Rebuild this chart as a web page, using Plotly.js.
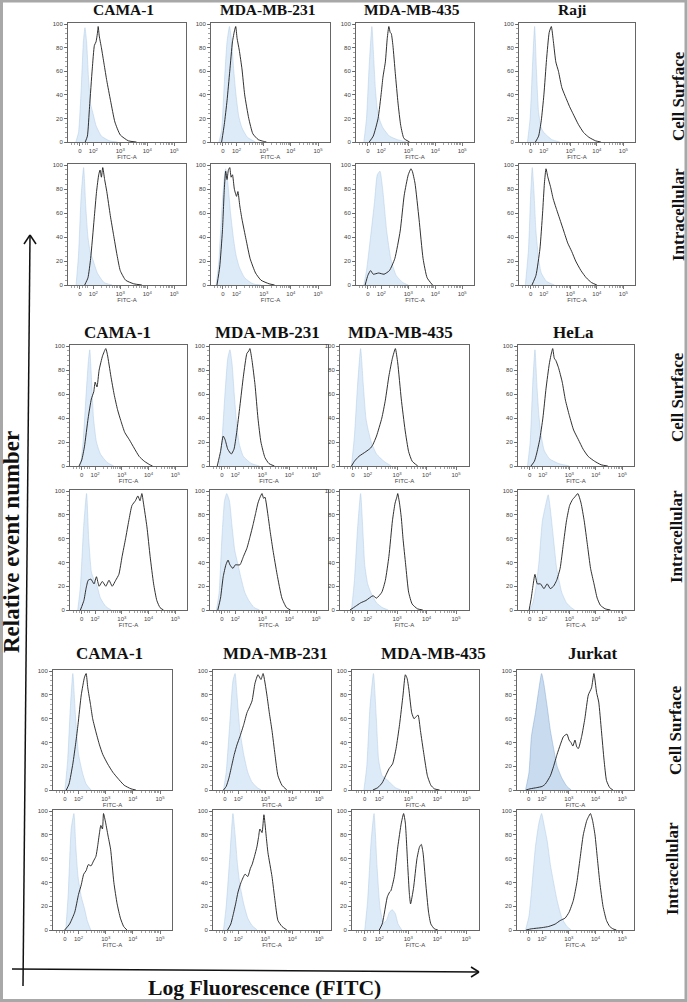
<!DOCTYPE html>
<html><head><meta charset="utf-8">
<script src="https://cdn.plot.ly/plotly-3.0.1.min.js"></script>
<style>html,body{margin:0;padding:0;background:#fff}#chart{width:688px;height:1002px}</style>
</head><body><div id="chart"></div>
<script>
// ---------- labels ----------
const groupCells = [
  ['CAMA-1','MDA-MB-231','MDA-MB-435','Raji'],
  ['CAMA-1','MDA-MB-231','MDA-MB-435','HeLa'],
  ['CAMA-1','MDA-MB-231','MDA-MB-435','Jurkat']
];
const rowLabels = ['Cell Surface','Intracellular'];
const xTickVals = [1.5, 2, 3, 4, 5];
const xTickText = ['0','10<sup>2</sup>','10<sup>3</sup>','10<sup>4</sup>','10<sup>5</sup>'];
const yTickVals = [0,20,40,60,80,100];
const fitcLabel = 'FITC-A';
const xAxisLabel = 'Log Fluorescence (FITC)';
const yAxisLabel = 'Relative event number';

// ---------- histogram data: [position (display decades), % of max] ----------
// Group 1, cell surface
const g1SurfCamaCtrl = [[1.35,0],[1.45,8],[1.55,45],[1.63,85],[1.69,97],[1.75,85],[1.82,55],[1.9,32],[1.98,25],[2.1,14],[2.3,5],[2.6,1],[2.9,0]];
const g1SurfCamaStain = [[1.7,0],[1.78,5],[1.86,30],[1.96,62],[2.04,82],[2.1,85],[2.15,92],[2.18,98],[2.22,90],[2.3,80],[2.4,66],[2.5,52],[2.64,35],[2.8,17],[3.0,6],[3.3,1],[3.6,0]];
const g1Surf231Ctrl = [[1.35,0],[1.45,10],[1.55,50],[1.65,85],[1.74,98],[1.82,85],[1.9,60],[1.98,40],[2.08,22],[2.2,12],[2.4,4],[2.7,0]];
const g1Surf231Stain = [[1.45,0],[1.55,15],[1.65,35],[1.75,60],[1.85,85],[1.93,95],[1.97,98],[2.02,88],[2.1,78],[2.2,62],[2.3,40],[2.45,20],[2.6,7],[2.8,2],[3.0,0.5],[3.1,0]];
const g1Surf435Ctrl = [[1.35,0],[1.45,20],[1.55,65],[1.65,98],[1.72,70],[1.78,45],[1.85,28],[1.95,18],[2.06,12],[2.3,5],[2.6,2],[2.95,0]];
const g1Surf435Stain = [[1.55,0],[1.7,5],[1.88,20],[2.0,42],[2.06,55],[2.15,68],[2.22,88],[2.28,98],[2.33,93],[2.37,92],[2.43,82],[2.52,58],[2.62,33],[2.72,14],[2.84,3],[3.05,0]];
const g1SurfRajiCtrl = [[1.38,0],[1.48,20],[1.58,70],[1.65,98],[1.72,60],[1.8,25],[1.9,12],[2.0,8],[2.3,2],[2.6,0]];
const g1SurfRajiStain = [[1.68,0],[1.8,5],[1.9,18],[2.0,40],[2.1,70],[2.2,93],[2.28,98],[2.36,85],[2.45,68],[2.55,60],[2.68,46],[2.84,37],[2.97,30],[3.1,24],[3.3,15],[3.5,8],[3.7,4],[3.95,1],[4.15,0]];
// Group 1, intracellular
const g1IntraCamaCtrl = [[1.36,0],[1.45,25],[1.55,75],[1.64,98],[1.72,65],[1.8,40],[1.88,28],[2.0,20],[2.15,10],[2.4,2],[2.7,0]];
const g1IntraCamaStain = [[1.68,0],[1.8,6],[1.9,22],[2.03,55],[2.12,78],[2.2,92],[2.25,96],[2.3,90],[2.35,98],[2.42,88],[2.5,78],[2.63,58],[2.75,42],[2.88,25],[3.0,12],[3.2,4],[3.5,1],[3.8,0]];
const g1Intra231Ctrl = [[1.25,0],[1.35,20],[1.45,60],[1.55,90],[1.6,97],[1.68,85],[1.78,60],[1.88,40],[1.98,25],[2.1,15],[2.3,6],[2.6,1],[2.9,0]];
const g1Intra231Stain = [[1.28,0],[1.38,15],[1.48,45],[1.55,80],[1.6,95],[1.65,88],[1.7,96],[1.75,98],[1.8,90],[1.85,92],[1.92,80],[2.0,74],[2.05,78],[2.12,66],[2.2,55],[2.35,38],[2.5,22],[2.7,10],[2.9,4],[3.2,1],[3.4,0]];
const g1Intra435Ctrl = [[1.35,0],[1.45,12],[1.6,40],[1.75,70],[1.85,92],[1.95,95],[2.05,80],[2.2,45],[2.35,22],[2.55,8],[2.8,2],[3.0,0]];
const g1Intra435Stain = [[1.4,0],[1.5,8],[1.6,12],[1.7,9],[1.9,10],[2.1,9],[2.3,12],[2.5,22],[2.7,45],[2.85,75],[3.0,92],[3.1,97],[3.15,95],[3.25,85],[3.4,55],[3.55,22],[3.7,6],[3.9,0]];
const g1IntraRajiCtrl = [[1.3,0],[1.42,30],[1.5,75],[1.56,98],[1.62,80],[1.7,45],[1.8,22],[1.9,10],[2.1,3],[2.4,0]];
const g1IntraRajiStain = [[1.55,0],[1.7,8],[1.85,30],[1.95,60],[2.02,85],[2.08,97],[2.15,90],[2.25,82],[2.35,72],[2.45,65],[2.6,55],[2.75,45],[2.9,35],[3.05,28],[3.2,20],[3.4,12],[3.6,6],[3.8,2],[4.0,0]];
// Group 2, cell surface
const g2SurfCamaCtrl = [[1.45,0],[1.55,20],[1.65,55],[1.75,88],[1.8,97],[1.87,70],[1.94,40],[2.05,20],[2.2,10],[2.45,3],[2.7,0]];
const g2SurfCamaStain = [[1.4,0],[1.5,5],[1.6,16],[1.74,40],[1.86,56],[1.95,62],[2.0,70],[2.07,66],[2.15,80],[2.28,92],[2.4,98],[2.46,93],[2.59,75],[2.71,60],[2.84,47],[2.96,38],[3.11,28],[3.28,22],[3.46,15],[3.65,8],[3.84,4],[4.05,1],[4.15,0]];
const g2Surf231Ctrl = [[1.4,0],[1.5,20],[1.6,55],[1.72,90],[1.8,97],[1.88,85],[1.96,60],[2.05,35],[2.15,18],[2.3,8],[2.6,2],[2.9,0]];
const g2Surf231Stain = [[1.33,0],[1.45,12],[1.55,25],[1.62,22],[1.72,14],[1.85,10],[1.95,14],[2.05,28],[2.17,50],[2.3,75],[2.43,94],[2.5,96],[2.54,98],[2.62,88],[2.73,68],[2.84,40],[2.95,20],[3.1,7],[3.25,2],[3.45,0]];
const g2Surf435Ctrl = [[1.45,0],[1.55,25],[1.65,65],[1.76,98],[1.85,68],[1.94,40],[2.0,32],[2.12,20],[2.3,10],[2.55,4],[2.8,0]];
const g2Surf435Stain = [[1.45,0],[1.55,4],[1.7,8],[1.94,12],[2.1,15],[2.18,18],[2.3,25],[2.48,40],[2.6,55],[2.72,75],[2.84,90],[2.94,98],[3.02,86],[3.14,56],[3.27,30],[3.39,12],[3.51,4],[3.7,0]];
const g2SurfHelaCtrl = [[1.42,0],[1.52,20],[1.62,70],[1.7,97],[1.78,65],[1.85,42],[1.93,26],[2.05,13],[2.25,6],[2.6,2],[3.0,0]];
const g2SurfHelaStain = [[1.55,0],[1.68,4],[1.76,10],[1.88,22],[2.0,40],[2.12,65],[2.24,85],[2.3,92],[2.37,98],[2.43,90],[2.49,88],[2.59,82],[2.73,70],[2.85,55],[3.0,42],[3.16,30],[3.34,22],[3.52,14],[3.71,8],[3.95,4],[4.2,1],[4.45,0]];
// Group 2, intracellular
const g2IntraCamaCtrl = [[1.35,0],[1.45,20],[1.57,70],[1.68,98],[1.76,60],[1.86,32],[1.95,26],[2.05,22],[2.2,10],[2.4,3],[2.6,0]];
const g2IntraCamaStain = [[1.45,0],[1.58,8],[1.66,18],[1.74,25],[1.84,26],[1.96,22],[2.05,28],[2.15,20],[2.27,24],[2.4,20],[2.52,25],[2.64,20],[2.77,25],[2.89,30],[3.01,45],[3.14,60],[3.26,75],[3.38,88],[3.51,92],[3.6,96],[3.68,92],[3.75,98],[3.81,90],[3.94,70],[4.06,45],[4.19,22],[4.31,8],[4.43,2],[4.56,0]];
const g2Intra231Ctrl = [[1.3,0],[1.4,15],[1.5,60],[1.6,92],[1.68,98],[1.78,92],[1.88,70],[1.98,50],[2.1,38],[2.2,28],[2.35,15],[2.5,8],[2.7,2],[2.9,0]];
const g2Intra231Stain = [[1.35,0],[1.45,10],[1.55,28],[1.65,38],[1.73,42],[1.8,38],[1.91,35],[2.0,38],[2.17,38],[2.3,45],[2.43,52],[2.55,62],[2.66,72],[2.76,82],[2.84,90],[2.92,95],[2.99,98],[3.05,94],[3.1,95],[3.21,80],[3.3,65],[3.4,50],[3.55,30],[3.73,10],[3.9,2],[4.05,0]];
const g2Intra435Ctrl = [[1.45,0],[1.55,25],[1.66,70],[1.76,98],[1.85,60],[1.9,38],[2.0,22],[2.12,14],[2.3,6],[2.5,2],[2.7,0]];
const g2Intra435Stain = [[1.4,0],[1.58,3],[1.76,6],[1.94,8],[2.18,12],[2.3,10],[2.48,15],[2.6,25],[2.72,45],[2.84,75],[2.93,90],[2.99,95],[3.02,98],[3.08,90],[3.14,78],[3.2,60],[3.29,38],[3.39,15],[3.51,5],[3.69,1],[3.87,0]];
const g2IntraHelaCtrl = [[1.5,0],[1.62,6],[1.73,18],[1.85,40],[1.98,75],[2.12,90],[2.2,97],[2.28,85],[2.4,60],[2.52,35],[2.71,15],[2.89,6],[3.07,2],[3.2,0]];
const g2IntraHelaStain = [[1.48,0],[1.56,10],[1.61,18],[1.7,30],[1.79,22],[1.91,22],[2.04,18],[2.16,22],[2.28,18],[2.4,20],[2.52,25],[2.65,35],[2.77,55],[2.89,75],[3.01,88],[3.12,93],[3.2,95],[3.32,98],[3.44,90],[3.56,75],[3.68,55],[3.8,35],[3.93,22],[4.05,10],[4.17,4],[4.35,1],[4.55,0]];
// Group 3, cell surface
const g3SurfCamaCtrl = [[1.5,0],[1.6,25],[1.7,70],[1.79,98],[1.88,65],[2.0,30],[2.15,14],[2.28,5],[2.46,0]];
const g3SurfCamaStain = [[1.55,0],[1.65,5],[1.79,22],[1.9,40],[1.98,55],[2.1,80],[2.22,95],[2.28,98],[2.34,86],[2.44,72],[2.52,60],[2.65,48],[2.77,38],[2.89,30],[3.07,22],[3.26,15],[3.44,10],[3.68,4],[3.93,1],[4.11,0]];
const g3Surf231Ctrl = [[1.45,0],[1.55,15],[1.68,55],[1.8,92],[1.88,98],[1.95,80],[2.06,50],[2.2,30],[2.35,15],[2.5,7],[2.7,2],[2.85,0]];
const g3Surf231Stain = [[1.45,0],[1.55,3],[1.65,10],[1.75,20],[1.85,30],[1.95,38],[2.06,45],[2.2,55],[2.32,65],[2.42,70],[2.51,75],[2.62,90],[2.73,97],[2.84,93],[2.92,98],[3.06,80],[3.15,65],[3.25,50],[3.36,30],[3.47,12],[3.62,4],[3.8,0]];
const g3Surf435Ctrl = [[1.47,0],[1.57,20],[1.68,70],[1.8,98],[1.9,60],[1.98,25],[2.1,12],[2.3,8],[2.55,2],[2.75,0]];
const g3Surf435Stain = [[1.78,0],[1.95,2],[2.1,6],[2.22,12],[2.34,18],[2.46,22],[2.58,35],[2.7,55],[2.82,80],[2.9,97],[2.96,94],[3.02,85],[3.12,65],[3.2,60],[3.28,62],[3.34,63],[3.42,50],[3.54,30],[3.66,12],[3.78,4],[3.9,1],[4.08,0]];
const g3SurfJurkatCtrl = [[1.38,0],[1.51,15],[1.6,45],[1.75,65],[1.88,85],[1.98,98],[2.06,90],[2.19,70],[2.31,50],[2.43,35],[2.56,20],[2.74,10],[2.93,3],[3.09,0]];
const g3SurfJurkatStain = [[1.4,0],[1.55,1],[1.8,2],[2.0,3],[2.12,5],[2.31,12],[2.43,20],[2.56,30],[2.68,38],[2.8,45],[2.93,47],[3.01,42],[3.08,40],[3.15,37],[3.23,42],[3.3,36],[3.36,35],[3.48,45],[3.6,60],[3.73,80],[3.85,86],[3.94,98],[4.04,82],[4.12,74],[4.22,50],[4.32,25],[4.41,8],[4.53,2],[4.65,0]];
// Group 3, intracellular
const g3IntraCamaCtrl = [[1.53,0],[1.62,30],[1.73,85],[1.83,98],[1.9,70],[1.98,45],[2.1,28],[2.22,18],[2.32,8],[2.45,0]];
const g3IntraCamaStain = [[1.49,0],[1.67,5],[1.86,15],[2.0,30],[2.1,38],[2.19,47],[2.28,50],[2.36,55],[2.46,54],[2.55,58],[2.64,62],[2.7,70],[2.76,80],[2.82,88],[2.88,85],[2.92,98],[3.0,90],[3.08,80],[3.18,68],[3.3,40],[3.42,22],[3.54,10],[3.66,3],[3.78,0]];
const g3Intra231Ctrl = [[1.45,0],[1.55,20],[1.68,60],[1.8,98],[1.88,80],[1.97,55],[2.06,38],[2.2,22],[2.35,10],[2.5,4],[2.7,0]];
const g3Intra231Stain = [[1.6,0],[1.72,5],[1.8,12],[1.9,22],[1.99,32],[2.1,40],[2.25,47],[2.35,45],[2.45,52],[2.51,55],[2.6,62],[2.69,70],[2.75,78],[2.8,85],[2.88,82],[2.95,97],[3.03,80],[3.1,65],[3.25,45],[3.36,25],[3.47,8],[3.62,3],[3.8,0]];
const g3Intra435Ctrl = [[1.5,0],[1.6,25],[1.72,75],[1.82,98],[1.92,55],[2.03,18],[2.15,6],[2.25,8],[2.35,15],[2.45,17],[2.55,14],[2.65,5],[2.78,0]];
const g3Intra435Stain = [[2.0,0],[2.1,5],[2.16,12],[2.28,28],[2.36,32],[2.4,33],[2.52,45],[2.64,70],[2.76,90],[2.84,98],[2.9,90],[2.98,55],[3.04,30],[3.08,22],[3.18,35],[3.3,60],[3.39,70],[3.45,72],[3.51,65],[3.6,40],[3.7,15],[3.78,5],[3.9,1],[4.02,0]];
const g3IntraJurkatCtrl = [[1.38,0],[1.51,12],[1.63,40],[1.75,70],[1.88,90],[1.98,98],[2.06,90],[2.19,75],[2.31,55],[2.43,40],[2.56,25],[2.74,10],[2.93,3],[3.09,0]];
const g3IntraJurkatStain = [[1.4,0],[1.6,1],[2.0,2],[2.25,3],[2.49,5],[2.68,8],[2.86,10],[3.01,15],[3.17,25],[3.3,40],[3.42,60],[3.54,80],[3.67,92],[3.73,95],[3.81,98],[3.89,92],[3.98,80],[4.07,60],[4.16,40],[4.28,20],[4.41,8],[4.53,3],[4.65,1],[4.78,0]];

// panel -> data (group, row, col)
const panelData = [
  [[[g1SurfCamaCtrl,g1SurfCamaStain],[g1Surf231Ctrl,g1Surf231Stain],[g1Surf435Ctrl,g1Surf435Stain],[g1SurfRajiCtrl,g1SurfRajiStain]],
   [[g1IntraCamaCtrl,g1IntraCamaStain],[g1Intra231Ctrl,g1Intra231Stain],[g1Intra435Ctrl,g1Intra435Stain],[g1IntraRajiCtrl,g1IntraRajiStain]]],
  [[[g2SurfCamaCtrl,g2SurfCamaStain],[g2Surf231Ctrl,g2Surf231Stain],[g2Surf435Ctrl,g2Surf435Stain],[g2SurfHelaCtrl,g2SurfHelaStain]],
   [[g2IntraCamaCtrl,g2IntraCamaStain],[g2Intra231Ctrl,g2Intra231Stain],[g2Intra435Ctrl,g2Intra435Stain],[g2IntraHelaCtrl,g2IntraHelaStain]]],
  [[[g3SurfCamaCtrl,g3SurfCamaStain],[g3Surf231Ctrl,g3Surf231Stain],[g3Surf435Ctrl,g3Surf435Stain],[g3SurfJurkatCtrl,g3SurfJurkatStain]],
   [[g3IntraCamaCtrl,g3IntraCamaStain],[g3Intra231Ctrl,g3Intra231Stain],[g3Intra435Ctrl,g3Intra435Stain],[g3IntraJurkatCtrl,g3IntraJurkatStain]]]
];

// ---------- layout geometry (pixels) ----------
const W = 688, H = 1002;
const PX = p => p / W, PY = p => 1 - p / H;
const colBoxes = [
  [[68,186],[211,330],[356,474],[519,635]],
  [[70,187],[210,328],[340,469],[518,634]],
  [[53,172],[213,331],[352,479],[517,634]]
];
const rowBoxes = [[[23,142],[164,285]], [[345,466],[490,610]], [[670,790],[810,930]]];
const titlePos = [
  [[124,9],[268,9],[412,9],[572,9]],
  [[117,332],[267,332],[400,332],[573,332]],
  [[109,653],[275,653],[433,653],[592,653]]
];
const titleSize = [15.5, 17, 17];
const rowLabelPos = [[[679,96],[678,215]], [[678,397],[676,537]], [[675,730],[672,869]]];

const serif = 'Liberation Serif, Times New Roman, serif';
const sans = 'Liberation Sans, Arial, sans-serif';

// minor tick positions on the display axis
const minorX = [1.2,1.3,1.4,1.6,1.7,1.8];
for (let d = 2; d <= 4; d++) for (let k = 2; k <= 9; k++) minorX.push(d + Math.log10(k));

const traces = [];
const layout = {
  width: W, height: H, margin: {l:0,r:0,t:0,b:0},
  paper_bgcolor: '#fff', plot_bgcolor: '#fff', showlegend: false,
  annotations: [], shapes: [], hovermode: false
};

let n = 0;
for (let g = 0; g < 3; g++) {
  for (let r = 0; r < 2; r++) {
    for (let c = 0; c < 4; c++) {
      n++;
      const xa = n === 1 ? 'xaxis' : 'xaxis' + n;
      const ya = n === 1 ? 'yaxis' : 'yaxis' + n;
      const xr = n === 1 ? 'x' : 'x' + n;
      const yr = n === 1 ? 'y' : 'y' + n;
      const [x0, x1] = colBoxes[g][c];
      const [y0, y1] = rowBoxes[g][r];
      layout[xa] = {
        domain: [PX(x0), PX(x1)], anchor: yr, range: [1.06, 5.44],
        tickmode: 'array', tickvals: xTickVals, ticktext: xTickText,
        ticks: 'outside', ticklen: 3, tickwidth: 0.8, tickcolor: '#555',
        tickfont: {size: 6, color: '#444', family: sans},
        minor: {tickmode: 'array', tickvals: minorX, ticks: 'outside', ticklen: 2, tickwidth: 0.6, tickcolor: '#666'},
        showline: true, mirror: true, linecolor: '#666', linewidth: 1,
        showgrid: false, zeroline: false, fixedrange: true,
        title: {text: fitcLabel, font: {size: 6, color: '#444', family: sans}, standoff: 1}
      };
      layout[ya] = {
        domain: [PY(y1), PY(y0)], anchor: xr, range: [0, 101],
        tickmode: 'array', tickvals: yTickVals,
        ticks: 'outside', ticklen: 3, tickwidth: 0.8, tickcolor: '#555',
        tickfont: {size: 6, color: '#444', family: sans},
        minor: {dtick: 4, ticks: 'outside', ticklen: 2, tickwidth: 0.6, tickcolor: '#666'},
        showline: true, mirror: true, linecolor: '#666', linewidth: 1,
        showgrid: false, zeroline: false, fixedrange: true
      };
      const [ctrl, stain] = panelData[g][r][c];
      const dark = (g === 2 && c === 3 && r === 0);
      traces.push({
        x: ctrl.map(p => p[0]), y: ctrl.map(p => p[1]), xaxis: xr, yaxis: yr,
        type: 'scatter', mode: 'lines', fill: 'tozeroy',
        fillcolor: dark ? 'rgba(135,175,218,0.45)' : 'rgba(175,205,235,0.42)',
        line: {color: dark ? 'rgba(125,165,208,0.8)' : 'rgba(170,200,230,0.8)', width: 0.6, shape: 'spline', smoothing: 0.5}
      });
      traces.push({
        x: stain.map(p => p[0]), y: stain.map(p => p[1]), xaxis: xr, yaxis: yr,
        type: 'scatter', mode: 'lines',
        line: {color: '#1a1a1a', width: 0.9, shape: 'spline', smoothing: 0.5}
      });
    }
    // row label
    const [lx, ly] = rowLabelPos[g][r];
    layout.annotations.push({
      text: '<b>' + rowLabels[r] + '</b>', xref: 'paper', yref: 'paper',
      x: PX(lx), y: PY(ly), xanchor: 'center', yanchor: 'middle', textangle: -90,
      showarrow: false, font: {family: serif, size: 17, color: '#111'}
    });
  }
  for (let c = 0; c < 4; c++) {
    const [tx, ty] = titlePos[g][c];
    layout.annotations.push({
      text: '<b>' + groupCells[g][c] + '</b>', xref: 'paper', yref: 'paper',
      x: PX(tx), y: PY(ty), xanchor: 'center', yanchor: 'middle',
      showarrow: false, font: {family: serif, size: titleSize[g], color: '#111'}
    });
  }
}

// big axis labels
layout.annotations.push({
  text: '<b>' + yAxisLabel + '</b>', xref: 'paper', yref: 'paper',
  x: PX(11), y: PY(542), xanchor: 'center', yanchor: 'middle', textangle: -90,
  showarrow: false, font: {family: serif, size: 23, color: '#111'}
});
layout.annotations.push({
  text: '<b>' + xAxisLabel + '</b>', xref: 'paper', yref: 'paper',
  x: PX(264), y: PY(988), xanchor: 'center', yanchor: 'middle',
  showarrow: false, font: {family: serif, size: 21.7, color: '#111'}
});

// arrows & frame
const ln = (xa, ya, xb, yb, w, col) => ({type: 'line', xref: 'paper', yref: 'paper',
  x0: PX(xa), y0: PY(ya), x1: PX(xb), y1: PY(yb), line: {color: col || '#111', width: w || 1.5}});
layout.shapes.push(ln(23, 986, 30, 236));
layout.shapes.push(ln(30, 235, 24, 244));
layout.shapes.push(ln(30, 235, 36, 244));
layout.shapes.push(ln(12, 969, 479, 972));
layout.shapes.push(ln(479, 972, 471, 967));
layout.shapes.push(ln(479, 972, 471, 977));
layout.shapes.push({type: 'rect', xref: 'paper', yref: 'paper',
  x0: PX(1.5), y0: PY(1000.5), x1: PX(686), y1: PY(1), line: {color: '#a8a8a8', width: 3}});

Plotly.newPlot('chart', traces, layout, {staticPlot: true, displayModeBar: false});
</script>
</body></html>
